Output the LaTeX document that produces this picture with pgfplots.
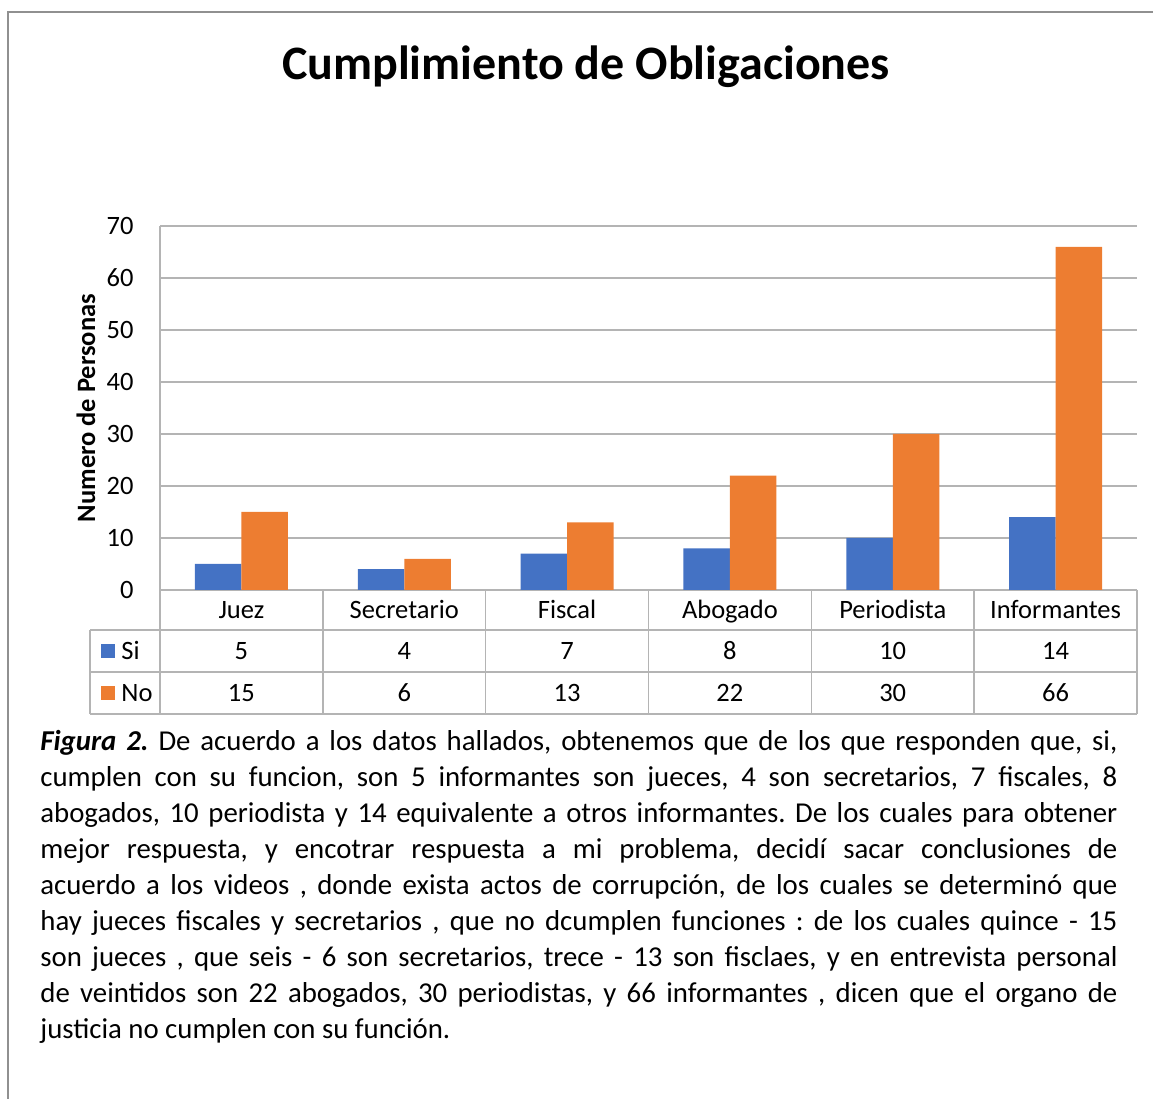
\documentclass[border=0pt]{standalone}
\usepackage{pgfplots}
\pgfplotsset{compat=1.18}
\usepackage{fontspec}
\setmainfont{Carlito}
\frenchspacing
\definecolor{barblue}{HTML}{4472C4}
\definecolor{barorange}{HTML}{ED7D31}
\definecolor{gridgray}{HTML}{B4B4B4}
\definecolor{framegray}{HTML}{909090}
\newcommand\chartfont{\fontsize{13.25}{16}\selectfont}
\newcommand\capline[1]{\makebox[538.5pt][s]{#1}}
\begin{document}
\begin{tikzpicture}[x=0.5pt,y=0.5pt]
\useasboundingbox (0,0) rectangle (1153,1099);
% outer frame (partial)
\draw[framegray, line width=0.8pt] (1153,1087) -- (8,1087) -- (8,0);
% title
\node[anchor=base, inner sep=0pt] at (586,1019) {\fontsize{24}{28}\selectfont\bfseries Cumplimiento de Obligaciones};
\begin{axis}[
  at={(80pt,254.5pt)}, anchor=south west,
  scale only axis, width=488.5pt, height=182pt,
  xmin=-0.5, xmax=5.5, ymin=0, ymax=70,
  ytick={0,10,...,70}, xtick=\empty,
  ymajorgrids, major grid style={gridgray, line width=0.8pt},
  axis x line*=bottom, axis y line*=left,
  axis line style={gridgray, line width=0.8pt, -},
  major tick length=0pt,
  /pgf/number format/assume math mode=true,
  yticklabel style={font=\chartfont, inner sep=0pt, anchor=east, xshift=-13pt},
  ylabel={\bfseries Numero de Personas},
  every axis y label/.style={at={(rel axis cs:0,0.5)}, xshift=-37pt, rotate=90, anchor=center, font=\chartfont},
  ybar=0pt, bar width=23.25pt,
  clip=false,
]
\addplot[fill=barblue, draw=none] coordinates {(0,5) (1,4) (2,7) (3,8) (4,10) (5,14)};
\addplot[fill=barorange, draw=none] coordinates {(0,15) (1,6) (2,13) (3,22) (4,30) (5,66)};
\end{axis}
% data table
\begin{scope}[gridgray, line width=0.8pt]
\draw (90,469) -- (1137,469);
\draw (90,427) -- (1137,427);
\draw (90,385) -- (1137,385);
\draw (90,469) -- (90,385);
\draw (160,509) -- (160,385);
\foreach \k in {1,...,6} {\draw ({160+162.833*\k},509) -- ({160+162.833*\k},385);}
\end{scope}
\foreach \name [count=\i from 0] in {Juez,Secretario,Fiscal,Abogado,Periodista,Informantes}
  {\node[anchor=base, inner sep=0pt, font=\chartfont] at ({241.4+162.833*\i},480.5) {\name};}
\foreach \v [count=\i from 0] in {5,4,7,8,10,14}
  {\node[anchor=base, inner sep=0pt, font=\chartfont] at ({241.4+162.833*\i},439.5) {\v};}
\foreach \v [count=\i from 0] in {15,6,13,22,30,66}
  {\node[anchor=base, inner sep=0pt, font=\chartfont] at ({241.4+162.833*\i},397.5) {\v};}
\fill[barblue] (101,441) rectangle (115,455);
\fill[barorange] (101,399) rectangle (115,413);
\node[anchor=base west, inner sep=0pt, font=\chartfont] at (121,439.5) {Si};
\node[anchor=base west, inner sep=0pt, font=\chartfont] at (121,397.5) {No};
% caption
\begin{scope}[every node/.style={anchor=base west, inner sep=0pt, font=\fontsize{14.4}{18}\selectfont}]
\node at (40,348) {\capline{\textbf{\textit{Figura 2.}} De acuerdo a los datos hallados, obtenemos que de los que responden que, si,}};
\node at (40,312) {\capline{cumplen con su funcion, son 5 informantes son jueces, 4 son secretarios, 7 fiscales, 8}};
\node at (40,276) {\capline{abogados, 10 periodista y 14 equivalente a otros informantes. De los cuales para obtener}};
\node at (40,240) {\capline{mejor respuesta, y encotrar respuesta a mi problema, decidí sacar conclusiones de}};
\node at (40,204) {\capline{acuerdo a los videos , donde exista actos de corrupción, de los cuales se determinó que}};
\node at (40,168) {\capline{hay jueces fiscales y secretarios , que no dcumplen funciones : de los cuales quince - 15}};
\node at (40,132) {\capline{son jueces , que seis - 6 son secretarios, trece - 13 son fisclaes, y en entrevista personal}};
\node at (40,96) {\capline{de veintidos son 22 abogados, 30 periodistas, y 66 informantes , dicen que el organo de}};
\node at (40,60) {justicia no cumplen con su función.};
\end{scope}
\end{tikzpicture}
\end{document}
